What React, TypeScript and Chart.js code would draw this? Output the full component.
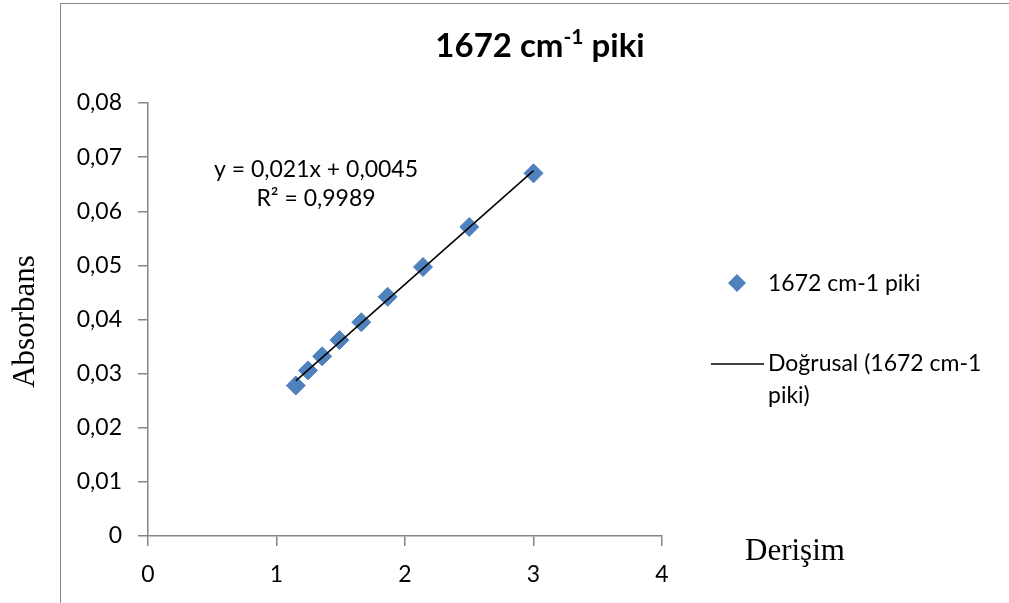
import React, { useEffect, useRef } from "react";
import { Chart, registerables } from "chart.js";

Chart.register(...registerables);

// ---- data ----
const concentrations = [1.15, 1.245, 1.355, 1.49, 1.66, 1.865, 2.14, 2.5, 3.0];
const absorbances = [0.0278, 0.0306, 0.0332, 0.0362, 0.0395, 0.0442, 0.0497, 0.0571, 0.067];
const trendSlope = 0.021;
const trendIntercept = 0.0045;
const trendX = [1.15, 3.0];
const xTickValues = [0, 1, 2, 3, 4];
const yTickValues = [0, 0.01, 0.02, 0.03, 0.04, 0.05, 0.06, 0.07, 0.08];
const titleMain = "1672 cm";
const titleSup = "-1";
const titleTail = " piki";
const seriesName = "1672 cm-1 piki";
const trendLegendLines = ["Doğrusal (1672 cm-1", "piki)"];
const equationLines = ["y = 0,021x + 0,0045", "R² = 0,9989"];
const xAxisTitle = "Derişim";
const yAxisTitle = "Absorbans";

const SANS = "Lato, 'Open Sans', sans-serif";
const SERIF = "'Liberation Serif', 'DejaVu Serif', serif";
const BLUE = "#4F81BD";
const GRAY = "#868686";

const decorPlugin = {
  id: "decor",
  afterDraw(chart: any) {
    const ctx = chart.ctx as CanvasRenderingContext2D;
    const ys = chart.scales.y;
    ctx.save();
    // outer frame
    ctx.strokeStyle = GRAY;
    ctx.lineWidth = 1;
    ctx.strokeRect(60.5, 3.5, 1200, 800);

    // title with superscript
    ctx.fillStyle = "#000";
    ctx.textBaseline = "alphabetic";
    ctx.textAlign = "left";
    const bigFont = `bold 33px ${SANS}`;
    const supFont = `bold 21px ${SANS}`;
    ctx.font = bigFont;
    const w1 = ctx.measureText(titleMain).width;
    const w3 = ctx.measureText(titleTail).width;
    ctx.font = supFont;
    const w2 = ctx.measureText(titleSup).width;
    const total = w1 + w2 + w3;
    let tx = 540 - total / 2;
    const tb = 57;
    ctx.font = bigFont;
    ctx.fillText(titleMain, tx, tb);
    tx += w1;
    ctx.font = supFont;
    ctx.fillText(titleSup, tx, tb - 13);
    tx += w2;
    ctx.font = bigFont;
    ctx.fillText(titleTail, tx, tb);

    // trendline equation
    ctx.font = `23px ${SANS}`;
    ctx.textAlign = "center";
    ctx.fillText(equationLines[0], 316, 177);
    ctx.fillText(equationLines[1], 316, 206);

    // legend
    ctx.textAlign = "left";
    ctx.textBaseline = "middle";
    ctx.fillStyle = BLUE;
    const cx = 737, cy = 283, r = 9;
    ctx.beginPath();
    ctx.moveTo(cx, cy - r);
    ctx.lineTo(cx + r, cy);
    ctx.lineTo(cx, cy + r);
    ctx.lineTo(cx - r, cy);
    ctx.closePath();
    ctx.fill();
    ctx.fillStyle = "#000";
    ctx.fillText(seriesName, 768, 284);
    ctx.strokeStyle = "#000";
    ctx.lineWidth = 1.5;
    ctx.beginPath();
    ctx.moveTo(711, 364);
    ctx.lineTo(764, 364);
    ctx.stroke();
    ctx.fillText(trendLegendLines[0], 768, 364);
    ctx.fillText(trendLegendLines[1], 768, 396);

    // axis titles
    ctx.font = `31px ${SERIF}`;
    ctx.textAlign = "left";
    ctx.textBaseline = "alphabetic";
    ctx.fillText(xAxisTitle, 745, 560);
    ctx.save();
    ctx.translate(34, (ys.top + ys.bottom) / 2 + 2);
    ctx.rotate(-Math.PI / 2);
    ctx.textAlign = "center";
    ctx.fillText(yAxisTitle, 0, 0);
    ctx.restore();
    ctx.restore();
  },
};

export default function App() {
  const ref = useRef<HTMLCanvasElement | null>(null);
  useEffect(() => {
    if (!ref.current) return;
    const points = concentrations.map((c, i) => ({ x: c, y: absorbances[i] }));
    const trend = trendX.map((x) => ({ x, y: trendSlope * x + trendIntercept }));
    const chart = new Chart(ref.current, {
      type: "scatter",
      data: {
        datasets: [
          {
            label: trendLegendLines.join(" "),
            data: trend,
            showLine: true,
            borderColor: "#000",
            borderWidth: 1.5,
            pointRadius: 0,
            order: 0,
          },
          {
            label: seriesName,
            data: points,
            pointStyle: "rectRot",
            pointRadius: 9.5,
            backgroundColor: BLUE,
            borderColor: BLUE,
            borderWidth: 1,
            order: 1,
          },
        ],
      },
      options: {
        responsive: false,
        animation: false,
        layout: { padding: { left: 0, right: 347, top: 103, bottom: 0 } },
        plugins: {
          legend: { display: false },
          title: { display: false },
          tooltip: { enabled: false },
        },
        scales: {
          x: {
            type: "linear",
            min: 0,
            max: 4,
            afterFit: (s: any) => {
              s.height = 67;
            },
            afterBuildTicks: (s: any) => {
              s.ticks = xTickValues.map((v) => ({ value: v }));
            },
            grid: { drawOnChartArea: false, drawTicks: true, tickLength: 10, color: GRAY, lineWidth: 1.5 },
            border: { display: true, color: GRAY, width: 1.5 },
            ticks: {
              padding: 15,
              color: "#000",
              font: { family: SANS, size: 23 },
              callback: (v: any) => String(v),
            },
          },
          y: {
            type: "linear",
            min: 0,
            max: 0.08,
            afterFit: (s: any) => {
              s.width = 148;
            },
            afterBuildTicks: (s: any) => {
              s.ticks = yTickValues.map((v) => ({ value: v }));
            },
            grid: { drawOnChartArea: false, drawTicks: true, tickLength: 10, color: GRAY, lineWidth: 1.5 },
            border: { display: true, color: GRAY, width: 1.5 },
            ticks: {
              padding: 16,
              color: "#000",
              font: { family: SANS, size: 23 },
              callback: (v: any) => (Number(v) === 0 ? "0" : Number(v).toFixed(2).replace(".", ",")),
            },
          },
        },
      },
      plugins: [decorPlugin],
    });
    return () => chart.destroy();
  }, []);
  return (
    <div style={{ position: "fixed", left: 0, top: 0, width: 1009, height: 603, background: "#fff" }}>
      <canvas ref={ref} width={1009} height={603} style={{ display: "block" }} />
    </div>
  );
}
